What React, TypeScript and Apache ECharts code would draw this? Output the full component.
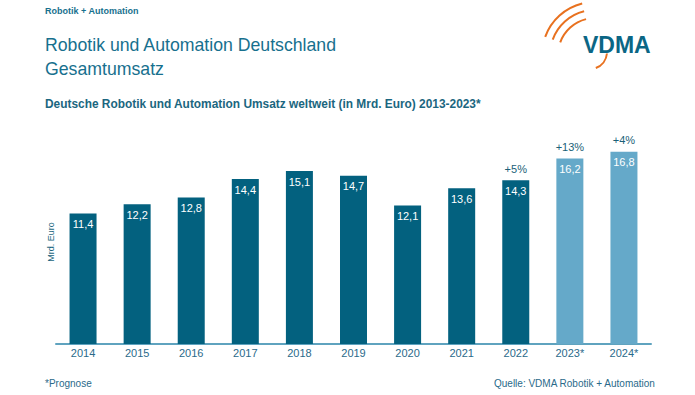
import React, { useEffect, useRef } from "react";
import * as echarts from "echarts";

const years = ["2014", "2015", "2016", "2017", "2018", "2019", "2020", "2021", "2022", "2023*", "2024*"];
const revenue = [11.4, 12.2, 12.8, 14.4, 15.1, 14.7, 12.1, 13.6, 14.3, 16.2, 16.8];
const forecast = [false, false, false, false, false, false, false, false, false, true, true];
const growth = ["", "", "", "", "", "", "", "", "+5%", "+13%", "+4%"];

const DARK = "#03617f";
const LIGHT = "#65a9c9";
const TEAL_TEXT = "#17708e";
const FONT = "Arial, 'Liberation Sans', sans-serif";

export default function App() {
  const ref = useRef<HTMLDivElement>(null);
  useEffect(() => {
    if (!ref.current) return;
    const chart = echarts.init(ref.current, undefined, { renderer: "svg" });
    const deg = Math.PI / 180;
    chart.setOption({
      animation: false,
      backgroundColor: "#ffffff",
      grid: { left: 56, right: 44, top: 115, bottom: 51 },
      xAxis: {
        type: "category",
        data: years,
        axisLine: { lineStyle: { color: "#5fa3bf", width: 2 } },
        axisTick: { show: false },
        axisLabel: { color: "#2a6a8a", fontSize: 11, fontFamily: FONT, margin: 3 },
      },
      yAxis: {
        type: "value",
        min: 0,
        max: 20,
        show: false,
      },
      series: [
        {
          type: "bar",
          data: revenue.map((v, i) => ({
            value: v,
            itemStyle: { color: forecast[i] ? LIGHT : DARK },
          })),
          barWidth: 27,
          barGap: "-100%",
          label: {
            show: true,
            position: "insideTop",
            distance: 5,
            color: "#ffffff",
            fontSize: 11,
            fontFamily: FONT,
            formatter: (p: any) => String(p.value).replace(".", ","),
          },
        },
        {
          type: "bar",
          data: revenue,
          barWidth: 27,
          barGap: "-100%",
          itemStyle: { color: "rgba(0,0,0,0)" },
          silent: true,
          label: {
            show: true,
            position: "top",
            distance: 6,
            color: "#1b5f78",
            fontSize: 11,
            fontFamily: FONT,
            formatter: (p: any) => growth[p.dataIndex],
          },
        },
      ],
      graphic: [
        {
          type: "text",
          left: 45,
          top: 6,
          style: { text: "Robotik + Automation", fill: TEAL_TEXT, font: `bold 9px ${FONT}` },
        },
        {
          type: "text",
          left: 45,
          top: 36,
          style: { text: "Robotik und Automation Deutschland", fill: TEAL_TEXT, font: `17.7px ${FONT}` },
        },
        {
          type: "text",
          left: 45,
          top: 60,
          style: { text: "Gesamtumsatz", fill: TEAL_TEXT, font: `17.7px ${FONT}` },
        },
        {
          type: "text",
          left: 45,
          top: 98,
          style: {
            text: "Deutsche Robotik und Automation Umsatz weltweit (in Mrd. Euro) 2013-2023*",
            fill: "#1b6680",
            font: `bold 11.9px ${FONT}`,
          },
        },
        {
          type: "text",
          x: 51,
          y: 242,
          rotation: Math.PI / 2,
          style: {
            text: "Mrd. Euro",
            fill: "#1b6680",
            font: `9px ${FONT}`,
            align: "center",
            verticalAlign: "middle",
          },
        },
        {
          type: "text",
          left: 45,
          top: 378,
          style: { text: "*Prognose", fill: "#2a6a8a", font: `10px ${FONT}` },
        },
        {
          type: "text",
          right: 39,
          top: 378,
          style: { text: "Quelle: VDMA Robotik + Automation", fill: "#2a6a8a", font: `10px ${FONT}` },
        },
        // VDMA logo
        ...[53, 45, 37].map((r) => ({
          type: "arc",
          shape: { cx: 595, cy: 55, r, startAngle: 200 * deg, endAngle: 256 * deg, clockwise: true },
          style: { stroke: "#e8711f", lineWidth: 2, fill: null },
        })),
        {
          type: "arc",
          shape: { cx: 590, cy: 52, r: 17, startAngle: 5 * deg, endAngle: 70 * deg, clockwise: true },
          style: { stroke: "#e8711f", lineWidth: 2, fill: null },
        },
        {
          type: "text",
          left: 583,
          top: 33,
          style: { text: "VDMA", fill: "#0b6685", font: `bold 23px ${FONT}` },
        },
      ],
    });
    return () => chart.dispose();
  }, []);
  return <div ref={ref} style={{ width: 695, height: 395, position: "absolute", left: 0, top: 0 }} />;
}
